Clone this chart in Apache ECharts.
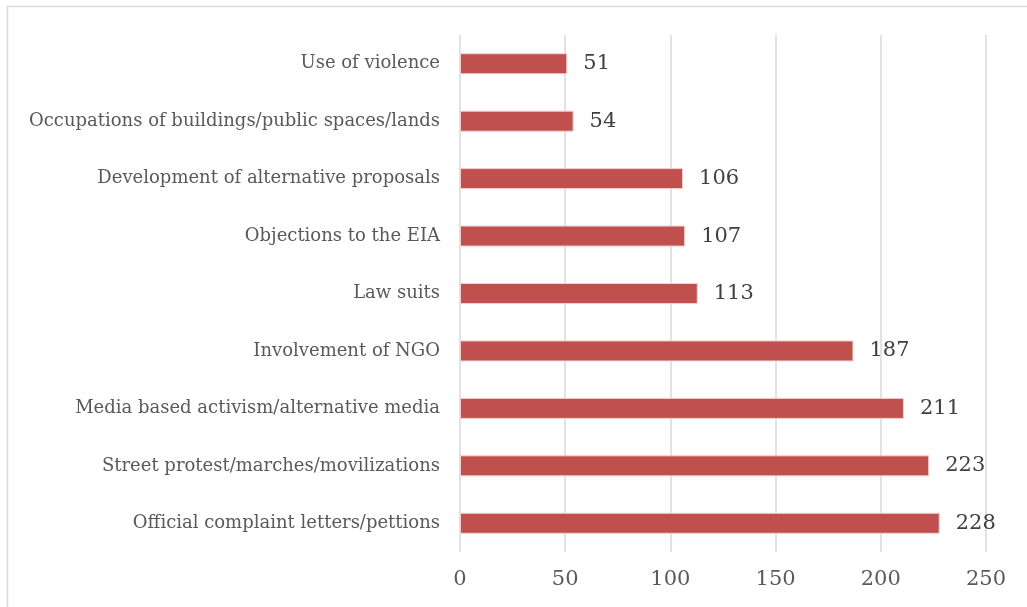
<!DOCTYPE html>
<html>
<head>
<meta charset="utf-8">
<script src="https://cdn.jsdelivr.net/npm/echarts@6/dist/echarts.min.js"></script>
<style>
  html, body { margin: 0; padding: 0; background: #fff; }
  #chart { width: 1027px; height: 607px; }
</style>
</head>
<body>
<div id="chart"></div>
<script>
// Categories listed bottom-to-top (category axis on y starts at the bottom)
const categories = [
  'Official complaint letters/pettions',
  'Street protest/marches/movilizations',
  'Media based activism/alternative media',
  'Involvement of NGO',
  'Law suits',
  'Objections to the EIA',
  'Development of alternative proposals',
  'Occupations of buildings/public spaces/lands',
  'Use of violence'
];
const counts = [228, 223, 211, 187, 113, 107, 106, 54, 51];
const xTicks = [0, 50, 100, 150, 200, 250];

const FONT = 'DejaVu Serif';
const TEXT = '#595959';

const chart = echarts.init(document.getElementById('chart'));
chart.setOption({
  animation: false,
  backgroundColor: '#fff',
  graphic: [
    { type: 'line', shape: { x1: 7, y1: 6.5, x2: 1027, y2: 6.5 }, style: { stroke: '#d9d9d9', lineWidth: 1.5 } },
    { type: 'line', shape: { x1: 7.5, y1: 6, x2: 7.5, y2: 607 }, style: { stroke: '#d9d9d9', lineWidth: 1.5 } }
  ],
  grid: { left: 460, right: 41, top: 35, bottom: 55, containLabel: false },
  xAxis: {
    type: 'value',
    min: xTicks[0],
    max: xTicks[xTicks.length - 1],
    interval: 50,
    axisLine: { show: false },
    axisTick: { show: false },
    splitLine: { show: true, lineStyle: { color: '#d9d9d9', width: 1.5 } },
    axisLabel: { color: TEXT, fontFamily: FONT, fontSize: 21, margin: 17 }
  },
  yAxis: {
    type: 'category',
    data: categories,
    axisLine: { show: false },
    axisTick: { show: false },
    axisLabel: { color: TEXT, fontFamily: FONT, fontSize: 18, margin: 20 }
  },
  series: [{
    type: 'bar',
    data: counts,
    barWidth: 21,
    itemStyle: { color: '#c0504d', borderColor: '#f2d0cf', borderWidth: 1 },
    label: {
      show: true,
      position: 'right',
      distance: 16,
      color: '#404040',
      fontFamily: FONT,
      fontSize: 21
    }
  }]
});
</script>
</body>
</html>
